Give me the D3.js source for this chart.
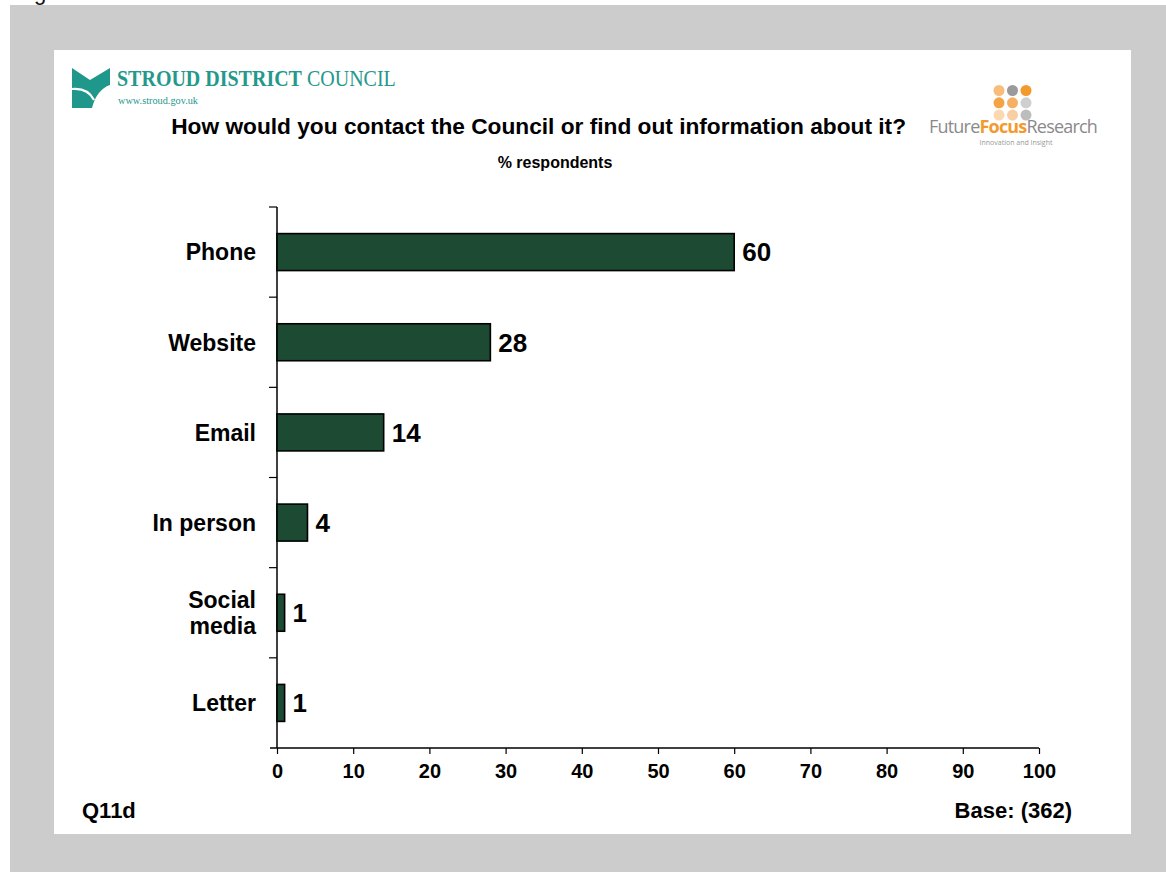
<!DOCTYPE html>
<html>
<head>
<meta charset="utf-8">
<script src="https://cdn.jsdelivr.net/npm/d3@7"></script>
<style>
  html, body { margin: 0; padding: 0; background: #ffffff; }
  svg { display: block; }
</style>
</head>
<body>
<svg id="chart" width="1166" height="872"></svg>
<script>
// Survey answers, % respondents
const categories = ["Phone", "Website", "Email", "In person", "Social media", "Letter"];
const values = [60, 28, 14, 4, 1, 1];
const xTicks = [0, 10, 20, 30, 40, 50, 60, 70, 80, 90, 100];

const svg = d3.select("#chart");
const font = "'Liberation Sans', Arial, Helvetica, sans-serif";

// page frame: grey surround and the white slide panel
svg.append("rect").attr("width", 1166).attr("height", 872).attr("fill", "#ffffff");
svg.append("text").attr("x", 34).attr("y", 0).attr("font-family", font)
  .attr("font-size", 22).attr("fill", "#111").text("g");
svg.append("rect").attr("x", 10).attr("y", 5).attr("width", 1156).attr("height", 867).attr("fill", "#cccccc");
svg.append("rect").attr("x", 54).attr("y", 50).attr("width", 1077).attr("height", 784).attr("fill", "#ffffff");

// council logo
const teal = "#1f978b";
const logo = svg.append("g");
logo.append("path")
  .attr("d", "M72,68 L90,80 L110,68 L110,85 C101,88 95,96 92,108 L72,108 Z")
  .attr("fill", teal);
logo.append("path")
  .attr("d", "M72,89 C82,88 90,92 94,100")
  .attr("stroke", "#ffffff").attr("stroke-width", 2.2).attr("fill", "none");
const serif = "'Liberation Serif', 'DejaVu Serif', serif";
const brand = logo.append("text").attr("transform", "translate(117,86) scale(1,1.18)")
  .attr("font-family", serif).attr("font-size", 20).attr("fill", "#24988d");
brand.append("tspan").attr("font-weight", "bold").text("STROUD DISTRICT");
brand.append("tspan").text(" COUNCIL");
logo.append("text").attr("x", 118).attr("y", 104)
  .attr("font-family", serif).attr("font-size", 10).attr("fill", "#24988d")
  .attr("textLength", 80).attr("lengthAdjust", "spacingAndGlyphs")
  .text("www.stroud.gov.uk");

// research agency logo
const dotColors = [
  ["#f8bd78", "#9a9a9a", "#f39a2e"],
  ["#f5a445", "#f6b064", "#cfcfcf"],
  ["#fbd8b0", "#f8cfa2", "#bdbdbd"]
];
const ffr = svg.append("g");
dotColors.forEach((row, r) => row.forEach((c, k) => {
  ffr.append("circle").attr("cx", 999 + k * 13.5).attr("cy", 90.5 + r * 12.3).attr("r", 5.5).attr("fill", c);
}));
const sans = "'Open Sans', 'Noto Sans', sans-serif";
const ffrText = ffr.append("text").attr("x", 929).attr("y", 133)
  .attr("font-family", sans).attr("font-size", 18).attr("fill", "#8a8a8a")
  .attr("letter-spacing", -0.8);
ffrText.append("tspan").text("Future");
ffrText.append("tspan").attr("font-weight", "bold").attr("fill", "#f39a2e").text("Focus");
ffrText.append("tspan").text("Research");
ffr.append("text").attr("x", 1016).attr("y", 145).attr("text-anchor", "middle")
  .attr("font-family", sans).attr("font-size", 7).attr("fill", "#999")
  .text("Innovation and Insight");

// titles
svg.append("text").attr("x", 906).attr("y", 134).attr("text-anchor", "end")
  .attr("font-family", font).attr("font-weight", "bold").attr("font-size", 22.7).attr("fill", "#000")
  .text("How would you contact the Council or find out information about it?");
svg.append("text").attr("x", 555).attr("y", 168).attr("text-anchor", "middle")
  .attr("font-family", font).attr("font-weight", "bold").attr("font-size", 16).attr("fill", "#000")
  .text("% respondents");

// scales
const x = d3.scaleLinear().domain([0, 100]).range([277, 1039]);
const y = d3.scaleBand().domain(categories).range([207, 748]).paddingInner(0.59).paddingOuter(0.295);
const yTickScale = d3.scaleLinear().domain([0, categories.length]).range([207, 748]);

// x axis
const xAxis = svg.append("g").attr("transform", "translate(0,748)")
  .call(d3.axisBottom(x).tickValues(xTicks).tickSize(6).tickSizeOuter(0).tickPadding(10));
xAxis.select(".domain").remove();
xAxis.selectAll(".tick line").attr("stroke", "#000").attr("stroke-width", 1.2);
xAxis.selectAll(".tick text").attr("font-family", font).attr("font-weight", "bold")
  .attr("font-size", 20).attr("fill", "#000");
svg.append("line").attr("x1", 270).attr("x2", 1039).attr("y1", 748).attr("y2", 748)
  .attr("stroke", "#000").attr("stroke-width", 1.5);

// y axis line with ticks between categories
svg.append("line").attr("x1", 277).attr("x2", 277).attr("y1", 207).attr("y2", 748)
  .attr("stroke", "#000").attr("stroke-width", 1.5);
svg.append("g").selectAll("line").data(d3.range(categories.length))
  .join("line")
  .attr("x1", 269).attr("x2", 277)
  .attr("y1", d => yTickScale(d)).attr("y2", d => yTickScale(d))
  .attr("stroke", "#000").attr("stroke-width", 1.2);

// bars
svg.append("g").selectAll("rect").data(values)
  .join("rect")
  .attr("x", x(0))
  .attr("y", (d, i) => y(categories[i]))
  .attr("width", d => x(d) - x(0))
  .attr("height", y.bandwidth())
  .attr("fill", "#1d4a33").attr("stroke", "#000").attr("stroke-width", 1.6);

// value labels
svg.append("g").selectAll("text").data(values)
  .join("text")
  .attr("x", d => x(d) + 8)
  .attr("y", (d, i) => y(categories[i]) + y.bandwidth() / 2)
  .attr("dy", "0.36em")
  .attr("font-family", font).attr("font-weight", "bold").attr("font-size", 26).attr("fill", "#000")
  .text(d => d);

// category labels (two lines for long labels)
const catLines = { "Social media": ["Social", "media"] };
const cats = svg.append("g");
categories.forEach(c => {
  const cy = y(c) + y.bandwidth() / 2;
  const lines = catLines[c] || [c];
  const t = cats.append("text").attr("text-anchor", "end")
    .attr("font-family", font).attr("font-weight", "bold").attr("font-size", 23).attr("fill", "#000");
  lines.forEach((ln, i) => {
    t.append("tspan").attr("x", 256)
      .attr("y", cy + (i - (lines.length - 1) / 2) * 26)
      .attr("dy", "0.36em").text(ln);
  });
});

// footer
svg.append("text").attr("x", 82).attr("y", 818)
  .attr("font-family", font).attr("font-weight", "bold").attr("font-size", 22).attr("fill", "#000")
  .text("Q11d");
svg.append("text").attr("x", 1072).attr("y", 818).attr("text-anchor", "end")
  .attr("font-family", font).attr("font-weight", "bold").attr("font-size", 22).attr("fill", "#000")
  .text("Base: (362)");
</script>
</body>
</html>
